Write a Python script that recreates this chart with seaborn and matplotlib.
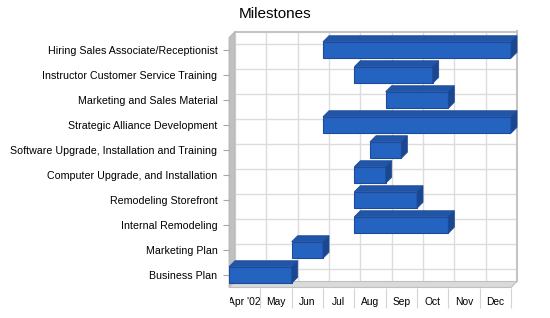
import matplotlib
matplotlib.use("Agg")
import matplotlib.pyplot as plt
from matplotlib.patches import Polygon
from matplotlib.transforms import Bbox, IdentityTransform
import pandas as pd
import seaborn as sns

tasks = [
    "Hiring Sales Associate/Receptionist",
    "Instructor Customer Service Training",
    "Marketing and Sales Material",
    "Strategic Alliance Development",
    "Software Upgrade, Installation and Training",
    "Computer Upgrade, and Installation",
    "Remodeling Storefront",
    "Internal Remodeling",
    "Marketing Plan",
    "Business Plan",
]
# months elapsed since 1 Apr 2002
start_month = [3, 4, 5, 3, 4.5, 4, 4, 4, 2, 0]
end_month = [9, 6.5, 7, 9, 5.5, 5, 6, 7, 3, 2]
month_labels = ["Apr '02", "May", "Jun", "Jul", "Aug", "Sep", "Oct", "Nov", "Dec"]

df = pd.DataFrame({"task": tasks, "start": start_month, "end": end_month})
df["length"] = df["end"] - df["start"]

FRONT = "#2563c0"
TOP = "#2155a8"
SIDE = "#1b4690"
EDGE = "#1d4b9c"

sns.set_theme(style="white")
plt.rcParams["font.family"] = ["Liberation Sans", "DejaVu Sans"]

W, H = 550, 318
fig = plt.figure(figsize=(W / 100, H / 100), dpi=100)
fig.patch.set_facecolor("white")

# front plane of the box (pixels from the top-left corner) and 3D depth
L, R, T, B = 229, 511, 37.5, 287.5
D = 6
n_months = len(month_labels)
n_rows = len(tasks)


def frac(x, y):
    return (x / W, 1 - y / H)


# back wall carrying the grid
back = fig.add_axes([(L + D) / W, 1 - (B - D) / H, (R - L) / W, (B - T) / H], zorder=0)
back.set_xlim(0, n_months)
back.set_ylim(n_rows - 0.5, -0.5)
back.set_xticks(range(n_months + 1))
back.set_yticks(range(n_rows))
back.grid(True, color="#dcdcdc", lw=1)
back.tick_params(left=False, bottom=False, labelleft=False, labelbottom=False)
for side in ["left", "bottom"]:
    back.spines[side].set_visible(False)
for side in ["right", "top"]:
    back.spines[side].set_color("#c4c4c4")
    back.spines[side].set_linewidth(1.5)

# left wall and floor of the box
wall = Polygon([frac(L, T), frac(L + D, T - D), frac(L + D, B - D), frac(L, B)],
               closed=True, transform=fig.transFigure, facecolor="#c0c0c0",
               edgecolor="#b4b4b4", lw=0.6, zorder=1)
floor = Polygon([frac(L, B), frac(R, B), frac(R + D, B - D), frac(L + D, B - D)],
                closed=True, transform=fig.transFigure, facecolor="#dadada",
                edgecolor="#c0c0c0", lw=0.8, zorder=1)
fig.add_artist(wall)
fig.add_artist(floor)

# front plane with the bars
ax = fig.add_axes([L / W, 1 - B / H, (R - L) / W, (B - T) / H], zorder=2)
ax.patch.set_alpha(0)
sns.barplot(data=df, x="length", y="task", left=df["start"], order=tasks,
            orient="h", width=0.66, color=FRONT, saturation=1,
            edgecolor=EDGE, linewidth=0.8, ax=ax)
ax.set_xlim(0, n_months)
ax.set_ylim(n_rows - 0.5, -0.5)
ax.set_xlabel("")
ax.set_ylabel("")
for s in ax.spines.values():
    s.set_visible(False)

ax.set_xticks([m + 0.5 for m in range(n_months)])
ax.set_xticklabels(month_labels)
ax.set_xticks(range(1, n_months + 1), minor=True)
ax.tick_params(axis="x", which="major", bottom=True, length=0, pad=7,
               labelsize=7.4, labelcolor="black")
ax.tick_params(axis="x", which="minor", bottom=True, length=14.4,
               width=0.8, color="#d4d4d4")
ax.tick_params(axis="y", left=True, length=4.5, width=0.8, color="#a8a8a8",
               pad=3.8, labelsize=7.7, labelcolor="black")

# top and side faces of each bar
for p in list(ax.patches):
    bb = p.get_window_extent()
    x0, y0, x1, y1 = bb.x0, bb.y0, bb.x1, bb.y1
    top = Polygon([(x0, y1), (x1, y1), (x1 + D, y1 + D), (x0 + D, y1 + D)],
                  closed=True, transform=IdentityTransform(), facecolor=TOP,
                  edgecolor=EDGE, lw=0.6, zorder=3)
    side = Polygon([(x1, y0), (x1, y1), (x1 + D, y1 + D), (x1 + D, y0 + D)],
                   closed=True, transform=IdentityTransform(), facecolor=SIDE,
                   edgecolor=EDGE, lw=0.6, zorder=3)
    fig.add_artist(top)
    fig.add_artist(side)

first = ax.get_xticklabels()[0]
first.set_clip_box(Bbox([[L + 1, 0], [W, H]]))
first.set_clip_on(True)

fig.text(275 / W, 1 - 18.5 / H, "Milestones", ha="center", va="baseline",
         fontsize=11, color="black")

fig.savefig("out.png", dpi=100)
